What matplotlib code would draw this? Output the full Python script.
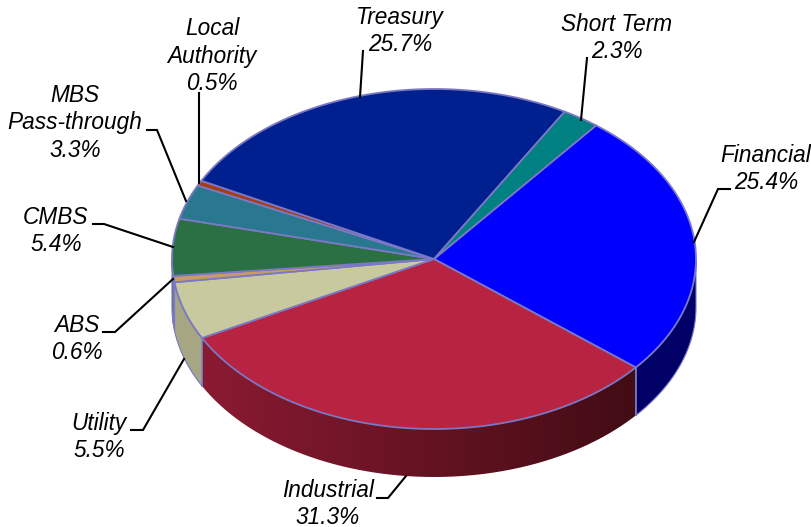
import numpy as np
import matplotlib
matplotlib.use("Agg")
import matplotlib.pyplot as plt
from matplotlib.colors import LinearSegmentedColormap
from matplotlib.patches import PathPatch
from matplotlib.path import Path

plt.rcParams['font.family'] = ['Liberation Sans', 'DejaVu Sans']

# sectors, clockwise from the Financial slice
labels = ['Financial', 'Industrial', 'Utility', 'ABS', 'CMBS',
          'MBS\nPass-through', 'Local\nAuthority', 'Treasury', 'Short Term']
shares = [25.4, 31.3, 5.5, 0.6, 5.4, 3.3, 0.5, 25.7, 2.3]
top_colors = ['#0000ff', '#b72340', '#c9c9a0', '#c89a68', '#2a7042',
              '#2a7890', '#a83c14', '#002090', '#008080']
side_colors = ['#000066', None, '#a6a682', '#a07a50', '#1c5030',
               '#1c5060', '#702810', '#001460', '#005050']

# picture geometry, in pixels
W, H = 812, 527
cx, cy = 434, 259
rx, ry = 262, 170
depth = 48
start = 51.8
edge = '#7a78c4'

# label text position and leader line for each sector
text_pos = [(766, 169), (328, 504), (99, 437), (77, 339), (56, 231),
            (75, 123), (212, 56), (400, 31), (617, 38)]
leaders = [
    [(694, 242), (718, 189), (730, 189)],
    [(406, 476), (388, 498), (377, 498)],
    [(184, 359), (143, 430), (131, 430)],
    [(173, 279), (115, 332), (103, 332)],
    [(173, 247), (104, 224), (93, 224)],
    [(186, 201), (157, 130), (147, 130)],
    [(199, 183), (199, 93)],
    [(360, 97), (363, 51)],
    [(581, 120), (587, 58)],
]


def rim(a, b, n=120, drop=0):
    t = np.radians(np.linspace(a, b, n))
    return np.column_stack([cx + rx * np.cos(t), cy - ry * np.sin(t) + drop])


fig = plt.figure(figsize=(W / 100, H / 100), dpi=100)
ax = fig.add_axes([0, 0, 1, 1])

# angle limits of every slice
ends = start - np.cumsum(shares) * 3.6
begins = np.concatenate([[start], ends[:-1]])

# side wall, only the front half (0 to -180 degrees) shows
for i in range(len(shares)):
    a, b = min(begins[i], 0), max(ends[i], -180)
    if a <= b:
        continue
    upper = rim(a, b)
    wall = np.vstack([upper, rim(b, a, drop=depth)])
    if side_colors[i] is None:
        # Industrial wall fades to dark from left to right
        cmap = LinearSegmentedColormap.from_list('wall', ['#8a1a32', '#420c14'])
        x0, x1 = wall[:, 0].min(), wall[:, 0].max()
        y0, y1 = wall[:, 1].min(), wall[:, 1].max()
        im = ax.imshow(np.linspace(0, 1, 256).reshape(1, -1), cmap=cmap, aspect='auto',
                       extent=[x0, x1, y1, y0], zorder=1)
        clip = PathPatch(Path(np.vstack([wall, wall[:1]])), transform=ax.transData,
                         fc='none', ec='none')
        ax.add_patch(clip)
        im.set_clip_path(clip)
        ax.plot(wall[[0, -1], 0], wall[[0, -1], 1], color=edge, lw=1.2, zorder=2)
        ax.plot(wall[[len(upper) - 1, len(upper)], 0], wall[[len(upper) - 1, len(upper)], 1],
                color=edge, lw=1.2, zorder=2)
    else:
        ax.fill(wall[:, 0], wall[:, 1], fc=side_colors[i], ec=edge, lw=0.8, zorder=2)

# top face
for i in range(len(shares)):
    arc = rim(begins[i], ends[i])
    poly = np.vstack([[cx, cy], arc])
    ax.fill(poly[:, 0], poly[:, 1], fc=top_colors[i], ec=edge, lw=1.3, joinstyle='round', zorder=3)

# labels and leader lines
for i, name in enumerate(labels):
    ax.text(text_pos[i][0], text_pos[i][1], f'{name}\n{shares[i]:.1f}%', ha='center', va='center',
            fontsize=16.3, style='italic', color='black', linespacing=1.24, zorder=5)
    pts = np.array(leaders[i])
    ax.plot(pts[:, 0], pts[:, 1], color='black', lw=1.5, solid_joinstyle='miter', zorder=4)

ax.set_xlim(0, W)
ax.set_ylim(H, 0)
ax.axis('off')

fig.savefig('out.png', dpi=100, facecolor='white')
plt.close(fig)
